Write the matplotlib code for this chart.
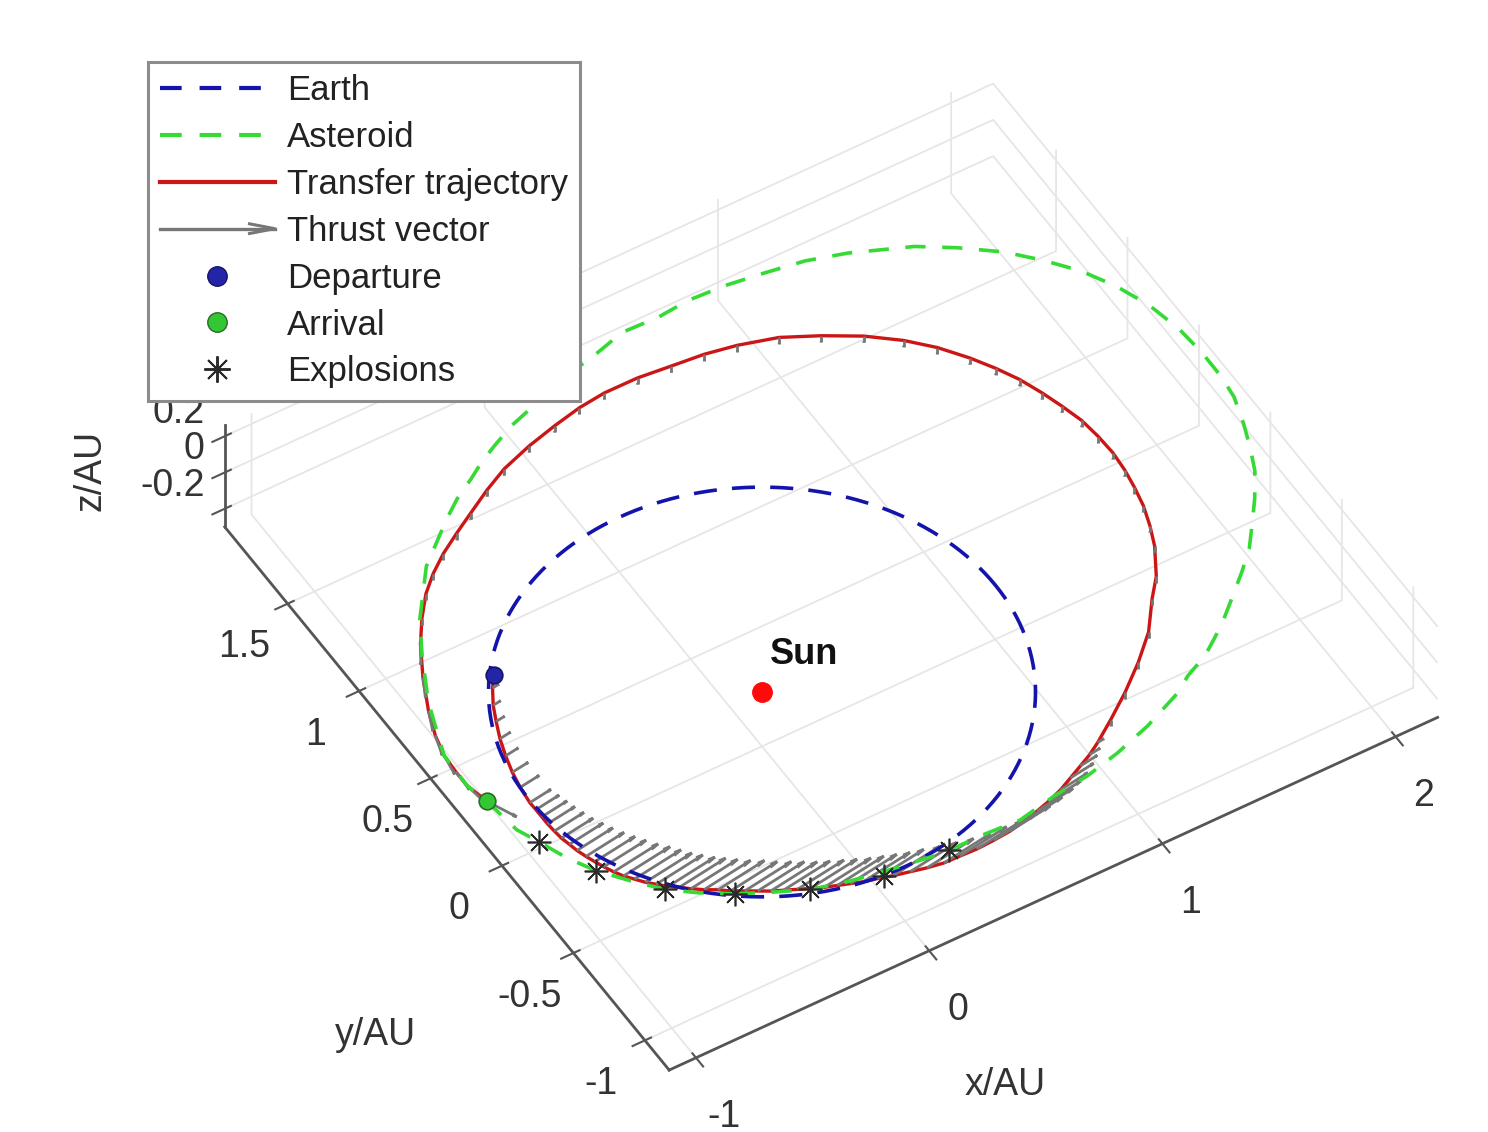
import numpy as np
import matplotlib
matplotlib.use("Agg")
import matplotlib.pyplot as plt
from matplotlib.lines import Line2D
from matplotlib.legend_handler import HandlerBase
from mpl_toolkits.mplot3d import proj3d

plt.rcParams['font.family'] = ['Liberation Sans', 'DejaVu Sans']
plt.rcParams['axes.unicode_minus'] = False
plt.rcParams['grid.color'] = '#e6e6e6'
plt.rcParams['grid.linewidth'] = 1.3
for a in ('xtick', 'ytick'):
    plt.rcParams[a + '.color'] = '#555555'
    plt.rcParams[a + '.major.width'] = 1.5
    plt.rcParams[a + '.labelcolor'] = '#333333'
    plt.rcParams[a + '.labelsize'] = 27

# ---------------- data (AU) ----------------
earth_radius = 1.0

asteroid_x = [-0.600, -0.478, -0.353, -0.230, -0.104, 0.157, 0.313, 0.478, 0.645, 0.799,
              0.952, 1.115, 1.294, 1.369, 1.474, 1.602, 1.700, 1.802, 1.884, 1.964,
              2.030, 2.100, 2.145, 2.186, 2.224, 2.236, 2.237, 2.226, 2.194, 2.139,
              2.067, 1.979, 1.877, 1.742, 1.612, 1.387, 1.234, 1.079, 0.922, 0.768,
              0.632, 0.481, 0.324, 0.176, 0.008, -0.101, -0.206, -0.290, -0.363, -0.458,
              -0.542, -0.597, -0.726, -0.883, -0.971, -1.067, -1.153, -1.158, -1.136, -1.116,
              -1.077, -1.033, -0.974, -0.889, -0.805, -0.712, -0.600]
asteroid_y = [-0.788, -0.853, -0.914, -0.950, -0.976, -1.017, -1.016, -1.026, -0.991, -0.971,
              -0.933, -0.878, -0.798, -0.746, -0.695, -0.600, -0.511, -0.417, -0.335, -0.227,
              -0.135, -0.022, 0.084, 0.198, 0.326, 0.434, 0.573, 0.714, 0.868, 1.013,
              1.145, 1.258, 1.369, 1.476, 1.563, 1.663, 1.712, 1.739, 1.762, 1.771,
              1.758, 1.764, 1.718, 1.687, 1.624, 1.587, 1.536, 1.491, 1.443, 1.386,
              1.322, 1.275, 1.164, 0.954, 0.793, 0.592, 0.343, 0.172, 0.070, -0.105,
              -0.199, -0.314, -0.426, -0.538, -0.637, -0.713, -0.788]

traj_x = [-0.793, -0.830, -0.872, -0.904, -0.936, -0.962, -0.983, -0.997, -1.006, -1.005,
          -1.005, -1.005, -1.002, -0.998, -0.989, -0.981, -0.968, -0.954, -0.939, -0.921,
          -0.901, -0.875, -0.849, -0.820, -0.788, -0.757, -0.723, -0.685, -0.642, -0.605,
          -0.561, -0.521, -0.481, -0.439, -0.393, -0.350, -0.304, -0.259, -0.214, -0.168,
          -0.117, -0.060, 0.003, 0.066, 0.131, 0.199, 0.269, 0.345, 0.418, 0.488,
          0.554, 0.617, 0.680, 0.742, 0.804, 0.861, 0.917, 1.017, 1.131, 1.249,
          1.358, 1.454, 1.524, 1.596, 1.633, 1.664, 1.683, 1.697, 1.704, 1.700,
          1.689, 1.664, 1.636, 1.600, 1.554, 1.500, 1.425, 1.338, 1.225, 1.093,
          0.958, 0.808, 0.682, 0.549, 0.413, 0.272, 0.156, 0.032, -0.098, -0.235,
          -0.342, -0.452, -0.547, -0.640, -0.723, -0.797, -0.874, -0.943, -1.020, -1.088,
          -1.129, -1.153, -1.158, -1.158, -1.136]
traj_y = [0.583, 0.531, 0.458, 0.385, 0.306, 0.224, 0.143, 0.065, -0.017, -0.058,
          -0.099, -0.139, -0.182, -0.225, -0.266, -0.306, -0.348, -0.387, -0.425, -0.465,
          -0.501, -0.535, -0.569, -0.598, -0.630, -0.655, -0.683, -0.712, -0.739, -0.768,
          -0.795, -0.820, -0.845, -0.866, -0.889, -0.910, -0.932, -0.949, -0.966, -0.983,
          -0.997, -1.015, -1.031, -1.047, -1.059, -1.061, -1.064, -1.060, -1.053, -1.038,
          -1.021, -1.002, -0.978, -0.947, -0.916, -0.887, -0.852, -0.781, -0.695, -0.595,
          -0.489, -0.357, -0.272, -0.143, -0.050, 0.047, 0.140, 0.231, 0.325, 0.421,
          0.520, 0.617, 0.710, 0.809, 0.901, 0.993, 1.099, 1.193, 1.287, 1.370,
          1.443, 1.490, 1.516, 1.530, 1.545, 1.546, 1.532, 1.504, 1.469, 1.421,
          1.366, 1.301, 1.244, 1.185, 1.121, 1.051, 0.954, 0.851, 0.708, 0.558,
          0.444, 0.343, 0.253, 0.172, 0.070]
traj_z = [0.0] * len(traj_x)

# thrust vectors attached to each trajectory node
thrust_dx = [0.02, 0.03, 0.035, 0.04, 0.05, 0.06, 0.075, 0.09, 0.10, 0.11,
             0.12, 0.13, 0.14, 0.15, 0.16, 0.17, 0.18, 0.19, 0.20, 0.21,
             0.22, 0.22, 0.22, 0.22, 0.22, 0.22, 0.22, 0.22, 0.22, 0.22,
             0.22, 0.22, 0.22, 0.22, 0.22, 0.22, 0.22, 0.22, 0.22, 0.22,
             0.22, 0.22, 0.22, 0.22, 0.22, 0.22, 0.21, 0.20, 0.19, 0.18,
             0.17, 0.15, 0.13, 0.11, 0.08, 0.05, 0.03, 0.0, 0.0, 0.0,
             0.0, 0.0, 0.0, 0.0, 0.0, 0.0, 0.0, 0.0, 0.0, 0.0,
             0.0, 0.0, 0.0, 0.0, 0.0, 0.0, 0.0, 0.0, 0.0, 0.0,
             0.0, 0.0, 0.0, 0.0, 0.0, 0.0, 0.0, 0.0, 0.0, 0.0,
             0.0, 0.0, 0.0, 0.0, 0.0, 0.0, 0.0, -0.051, -0.044, -0.038,
             -0.029, -0.015, -0.003, 0.012, 0.053]
thrust_dy = [0.003, 0.0045, 0.005, 0.006, 0.0075, 0.009, 0.011, 0.0135, 0.015, 0.0165,
             0.018, 0.0195, 0.021, 0.0225, 0.024, 0.0255, 0.027, 0.0285, 0.030, 0.0315,
             0.033, 0.033, 0.033, 0.033, 0.033, 0.033, 0.033, 0.033, 0.033, 0.033,
             0.033, 0.033, 0.033, 0.033, 0.033, 0.033, 0.033, 0.033, 0.033, 0.033,
             0.033, 0.033, 0.033, 0.033, 0.033, 0.033, 0.0315, 0.030, 0.0285, 0.027,
             0.0255, 0.0225, 0.0195, 0.0165, 0.012, 0.0075, 0.0045, 0.0, 0.0, 0.0,
             0.0, 0.0, 0.0, 0.0, 0.0, 0.0, 0.0, 0.0, 0.0, 0.0,
             0.0, 0.0, 0.0, 0.0, 0.0, 0.0, 0.0, 0.0, 0.0, 0.0,
             0.0, 0.0, 0.0, 0.0, 0.0, 0.0, 0.0, 0.0, 0.0, 0.0,
             0.0, 0.0, 0.0, 0.0, 0.0, 0.0, 0.0, -0.086, -0.090, -0.092,
             -0.096, -0.099, -0.100, -0.099, -0.121]
thrust_dz = [0.0] * 57 + [-0.035] * 40 + [0.0] * 8

explosion_x = [-1.077, -0.974, -0.805, -0.600, -0.353, -0.088, 0.180]
explosion_y = [-0.199, -0.426, -0.637, -0.788, -0.914, -0.998, -1.015]

departure = (-0.793, 0.583, 0.0)
arrival = (-1.136, 0.070, 0.0)
sun = (0.0, 0.0, 0.0)

x_lim = (-1.115, 2.18)
y_lim = (-1.17, 1.94)
z_lim = (-0.30, 0.26)
x_ticks = [-1, 0, 1, 2]
y_ticks = [-1, -0.5, 0, 0.5, 1, 1.5]
z_ticks = [-0.2, 0, 0.2]
x_ticklabels = ['-1', '0', '1', '2']
y_ticklabels = ['-1', '-0.5', '0', '0.5', '1', '1.5']
z_ticklabels = ['-0.2', '0', '0.2']

# ---------------- colours ----------------
c_earth = '#1414ad'
c_ast = '#35da35'
c_traj = '#cc1616'
c_thrust = '#777777'

W, H = 1488, 1132
fig = plt.figure(figsize=(W / 100, H / 100), dpi=100)
ax = fig.add_axes([0, 0, 1, 1], projection='3d')
ax.set_proj_type('ortho')
ax.computed_zorder = False
ax.view_init(elev=48.5, azim=-121.5)

t = np.linspace(0, 2 * np.pi, 361)
ax.plot(earth_radius * np.cos(t), earth_radius * np.sin(t), np.zeros_like(t),
        color=c_earth, lw=2.6, ls=(0, (6.4, 4.2)), zorder=5)
ax.plot(traj_x, traj_y, traj_z, color=c_traj, lw=2.4, zorder=3)
ax.quiver(traj_x, traj_y, traj_z, thrust_dx, thrust_dy, thrust_dz,
          color=c_thrust, lw=2.0, arrow_length_ratio=0.15, zorder=4)
ax.plot(asteroid_x, asteroid_y, [0.0] * len(asteroid_x), color=c_ast, lw=2.6,
        ls=(0, (5.6, 4.6)), zorder=6)
ax.plot([sun[0]], [sun[1]], [sun[2]], 'o', color='#ff0a0a', ms=14, mec='#ff0a0a', zorder=8)
ax.plot([departure[0]], [departure[1]], [departure[2]], 'o', color='#2424a8', ms=12,
        mec='#15156a', mew=1.2, zorder=8)
ax.plot([arrival[0]], [arrival[1]], [arrival[2]], 'o', color='#33c833', ms=12,
        mec='#2a6a2a', mew=1.2, zorder=8)
ax.plot(explosion_x, explosion_y, [0.0] * len(explosion_x), ls='none', marker=(8, 2, 0),
        ms=17, mew=1.2, color='#2a2a2a', zorder=9)
ax.text(0.035, 0.0, 0.09, 'Sun', fontsize=26, fontweight='bold', ha='left', va='bottom',
        color='#111111', zorder=10)

ax.set_xlim(*x_lim)
ax.set_ylim(*y_lim)
ax.set_zlim(*z_lim)
ax.set_xticks(x_ticks)
ax.set_xticklabels(x_ticklabels)
ax.set_yticks(y_ticks)
ax.set_yticklabels(y_ticklabels)
ax.set_zticks(z_ticks)
ax.tick_params(axis='x', labelsize=27, labelcolor='#333333', colors='#555555', pad=19)
ax.tick_params(axis='y', labelsize=27, labelcolor='#333333', colors='#555555', pad=16)
ax.tick_params(axis='z', colors='#555555', labelleft=False, labelright=False)

for axis in (ax.xaxis, ax.yaxis, ax.zaxis):
    axis.set_pane_color((1, 1, 1, 0))
    axis.pane.set_edgecolor('#d9d9d9')
    axis.pane.set_linewidth(1.3)
    axis.line.set_color('#555555')
    axis.line.set_linewidth(2.0)

# axis titles (placed like the original figure)
fig.text(1005 / W, 1 - 1085 / H, 'x/AU', fontsize=27, color='#333333', ha='center', va='center')
fig.text(375 / W, 1 - 1035 / H, 'y/AU', fontsize=27, color='#333333', ha='center', va='center')
fig.text(90 / W, 1 - 470 / H, 'z/AU', fontsize=27, color='#333333', ha='center', va='center',
         rotation=90)

xr, yr, zr = x_lim[1] - x_lim[0], y_lim[1] - y_lim[0], z_lim[1] - z_lim[0]


# ---------------- legend ----------------
class HandlerArrow(HandlerBase):
    def create_artists(self, legend, orig_handle, xdescent, ydescent, width, height,
                       fontsize, trans):
        y = (height - ydescent) / 2.0
        x0, x1 = -xdescent, width - xdescent
        hl = 0.22 * width
        hh = 0.2 * height
        line = Line2D([x0, x1], [y, y], color=c_thrust, lw=2.4, transform=trans)
        head = Line2D([x1 - hl, x1, x1 - hl], [y + hh, y, y - hh], color=c_thrust, lw=2.2,
                      transform=trans)
        return [line, head]


h_earth = Line2D([], [], color=c_earth, lw=3, ls=(0, (5.2, 4.3)))
h_ast = Line2D([], [], color=c_ast, lw=3, ls=(0, (5.2, 4.3)))
h_traj = Line2D([], [], color=c_traj, lw=3)
h_thr = Line2D([], [], color=c_thrust)
h_dep = Line2D([], [], ls='none', marker='o', color='#2424a8', mec='#15156a', ms=14)
h_arr = Line2D([], [], ls='none', marker='o', color='#33c833', mec='#2a6a2a', ms=14)
h_exp = Line2D([], [], ls='none', marker=(8, 2, 0), color='#2a2a2a', ms=19, mew=1.4)
leg = fig.legend([h_earth, h_ast, h_traj, h_thr, h_dep, h_arr, h_exp],
                 ['Earth', 'Asteroid', 'Transfer trajectory', 'Thrust vector',
                  'Departure', 'Arrival', 'Explosions'],
                 loc='upper left', bbox_to_anchor=(148 / W, 1 - 62 / H),
                 bbox_transform=fig.transFigure, borderaxespad=0, fontsize=25,
                 handlelength=3.3, handletextpad=0.35, labelspacing=0.40, borderpad=0.35,
                 fancybox=False, framealpha=1, edgecolor='#8c8c8c', numpoints=1,
                 handler_map={h_thr: HandlerArrow()})
leg.get_frame().set_linewidth(2.2)
for txt in leg.get_texts():
    txt.set_color('#222222')
leg.set_zorder(20)


# ---------------- fit the view to the target scale / position ----------------
def to_px(x, y, z):
    X, Y, _ = proj3d.proj_transform(x, y, z, ax.get_proj())
    return np.array(ax.transData.transform((X, Y)))


ax.set_box_aspect((xr, yr, zr), zoom=1.0)
fig.canvas.draw()
s = np.hypot(*(to_px(1, 0, 0) - to_px(0, 0, 0)))
ax.set_box_aspect((xr, yr, zr), zoom=256.6 / s)
fig.canvas.draw()
p0 = to_px(0, 0, 0)
target = np.array([762.0, H - 692.0])
pos = ax.get_position()
d = (target - p0) / np.array([W, H])
ax.set_position([pos.x0 + d[0], pos.y0 + d[1], pos.width, pos.height])
fig.canvas.draw()

# z tick labels: up-left of their ticks on the vertical axis, as in the original
for zt, zl in zip(z_ticks, z_ticklabels):
    pz = to_px(x_lim[0], y_lim[1], zt)
    fig.text((pz[0] - 20) / W, (pz[1] + 23) / H, zl, fontsize=27, color='#333333',
             ha='right', va='center', zorder=1)

fig.savefig('out.png', dpi=100)
